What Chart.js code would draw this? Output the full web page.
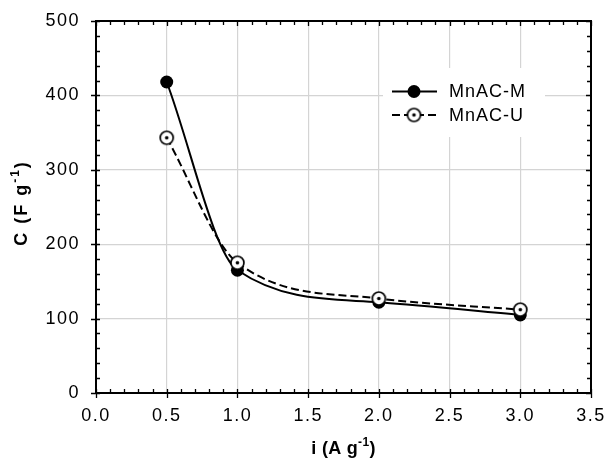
<!DOCTYPE html>
<html>
<head>
<meta charset="utf-8">
<script src="https://cdn.jsdelivr.net/npm/chart.js@4/dist/chart.umd.min.js"></script>
<style>
html,body{margin:0;padding:0;background:#fff;}
#wrap{width:607px;height:461px;position:relative;}
</style>
</head>
<body>
<div id="wrap"><canvas id="c" width="607" height="461"></canvas></div>
<script>
const currents = [0.5, 1.0, 2.0, 3.0];
const mnacM = [418, 165, 122, 105];
const mnacU = [343, 175, 127, 112];
const seriesNames = ['MnAC-M', 'MnAC-U'];
const xTickLabels = ['0.0','0.5','1.0','1.5','2.0','2.5','3.0','3.5'];
const yTickLabels = ['0','100','200','300','400','500'];

const FONT = "'Liberation Sans', Arial, sans-serif";

function makeU(r) {
  const s = Math.ceil(r*2+4);
  const cv = document.createElement('canvas');
  cv.width = s; cv.height = s;
  const g = cv.getContext('2d');
  g.beginPath(); g.arc(s/2, s/2, r, 0, Math.PI*2);
  g.fillStyle = '#fff'; g.fill();
  g.lineWidth = 1.7; g.strokeStyle = '#000'; g.stroke();
  g.beginPath(); g.arc(s/2, s/2, 1.8, 0, Math.PI*2);
  g.fillStyle = '#000'; g.fill();
  return cv;
}
const uImg = makeU(6.5);

const spacingPlugin = {
  id: 'spacing',
  beforeDraw(chart) { chart.ctx.letterSpacing = '1.5px'; },
  beforeLayout(chart) { chart.ctx.letterSpacing = '1.5px'; }
};

const framePlugin = {
  id: 'frame',
  afterDatasetsDraw(chart) {
    const ctx = chart.ctx, a = chart.chartArea;
    const xs = chart.scales.x, ys = chart.scales.y;
    ctx.save();
    ctx.strokeStyle = '#000';
    ctx.lineWidth = 1.3;
    for (let i = 0; i <= 35; i++) {
      const v = i/10;
      const px = Math.round(xs.getPixelForValue(v)) + 0.5;
      const major = (i % 5 === 0);
      ctx.beginPath();
      if (major) {
        ctx.moveTo(px, a.bottom + 5); ctx.lineTo(px, a.bottom - 4);
        ctx.moveTo(px, a.top); ctx.lineTo(px, a.top + 5);
      } else {
        ctx.moveTo(px, a.bottom); ctx.lineTo(px, a.bottom - 4);
        ctx.moveTo(px, a.top); ctx.lineTo(px, a.top + 4);
      }
      ctx.stroke();
    }
    for (let i = 0; i <= 25; i++) {
      const v = i*20;
      const py = Math.round(ys.getPixelForValue(v)) + 0.5;
      const major = (i % 5 === 0);
      ctx.beginPath();
      if (major) {
        ctx.moveTo(a.left - 5, py); ctx.lineTo(a.left + 4, py);
        ctx.moveTo(a.right, py); ctx.lineTo(a.right - 5, py);
      } else {
        ctx.moveTo(a.left, py); ctx.lineTo(a.left + 4, py);
        ctx.moveTo(a.right, py); ctx.lineTo(a.right - 4, py);
      }
      ctx.stroke();
    }
    ctx.lineWidth = 2;
    ctx.strokeRect(a.left, a.top, a.right - a.left, a.bottom - a.top);

    // legend
    const lx = 383, ly = 68;
    ctx.fillStyle = '#fff';
    ctx.fillRect(lx, ly, 162, 69);
    const rows = [91.5, 115];
    ctx.lineWidth = 2;
    ctx.setLineDash([]);
    ctx.beginPath(); ctx.moveTo(392, rows[0]); ctx.lineTo(437, rows[0]); ctx.stroke();
    ctx.beginPath(); ctx.arc(414, rows[0], 6.5, 0, Math.PI*2); ctx.fillStyle='#000'; ctx.fill();
    ctx.setLineDash([8,4]);
    ctx.beginPath(); ctx.moveTo(392, rows[1]); ctx.lineTo(437, rows[1]); ctx.stroke();
    ctx.setLineDash([]);
    ctx.drawImage(uImg, 414 - uImg.width/2, rows[1] - uImg.height/2);
    ctx.fillStyle = '#000';
    ctx.font = "18px " + FONT;
    ctx.letterSpacing = '1px';
    ctx.textBaseline = 'middle';
    ctx.textAlign = 'left';
    ctx.fillText(seriesNames[0], 449, rows[0] + 1);
    ctx.fillText(seriesNames[1], 449, rows[1] + 1);

    function drawSup(parts, x, y, rotate, size, supSize, spacing) {
      ctx.save();
      ctx.translate(x, y);
      if (rotate) ctx.rotate(-Math.PI/2);
      ctx.letterSpacing = spacing + 'px';
      const big = "bold " + size + "px " + FONT, small = "bold " + supSize + "px " + FONT;
      let w = 0;
      parts.forEach(p => { ctx.font = p.sup ? small : big; w += ctx.measureText(p.t).width; });
      let cx = -w/2;
      ctx.textAlign = 'left';
      ctx.textBaseline = 'alphabetic';
      parts.forEach(p => {
        ctx.font = p.sup ? small : big;
        ctx.fillText(p.t, cx, p.sup ? -1 : 6.5);
        cx += ctx.measureText(p.t).width;
      });
      ctx.restore();
    }
    drawSup([{t:'i (A g'},{t:'-1',sup:true},{t:')'}], (a.left+a.right)/2, 447, false, 18, 12, 0.3);
    drawSup([{t:'C (F g'},{t:'-1',sup:true},{t:')'}], 20, 203, true, 18, 12, 2);
    ctx.restore();
  }
};

new Chart(document.getElementById('c'), {
  type: 'line',
  data: {
    datasets: [
      {
        label: seriesNames[0],
        data: currents.map((x,i) => ({x, y: mnacM[i]})),
        borderColor: '#000', backgroundColor: '#000',
        borderWidth: 2, pointRadius: 6.5, pointStyle: 'circle',
        pointBorderWidth: 0, cubicInterpolationMode: 'monotone', order: 1
      },
      {
        label: seriesNames[1],
        data: currents.map((x,i) => ({x, y: mnacU[i]})),
        borderColor: '#000', backgroundColor: '#fff',
        borderWidth: 2, borderDash: [8,4], pointStyle: uImg, pointRadius: 6.5,
        cubicInterpolationMode: 'monotone', order: 0
      }
    ]
  },
  options: {
    responsive: false, animation: false, devicePixelRatio: 1,
    layout: { padding: { left: 0, top: 21, right: 16, bottom: 0 } },
    plugins: { legend: { display: false }, tooltip: { enabled: false } },
    scales: {
      x: {
        type: 'linear', min: 0, max: 3.5,
        afterFit: s => { s.height = 68; s.paddingLeft = 0; s.paddingRight = 0; },
        afterBuildTicks: s => { s.ticks = xTickLabels.map(t => ({value: parseFloat(t)})); },
        ticks: { callback: (v) => xTickLabels.find(t => parseFloat(t) === v) ?? '', color: '#000', font: { size: 18, family: FONT }, padding: 12, maxRotation: 0 },
        grid: { color: '#d4d4d4', lineWidth: 1.2, drawTicks: false },
        border: { display: false }
      },
      y: {
        min: 0, max: 500,
        afterFit: s => { s.width = 96; s.paddingTop = 0; s.paddingBottom = 0; },
        afterBuildTicks: s => { s.ticks = yTickLabels.map(t => ({value: parseFloat(t)})); },
        ticks: { callback: (v) => yTickLabels.find(t => parseFloat(t) === v) ?? '', color: '#000', font: { size: 18, family: FONT }, padding: 16 },
        grid: { color: '#d4d4d4', lineWidth: 1.2, drawTicks: false },
        border: { display: false }
      }
    }
  },
  plugins: [spacingPlugin, framePlugin]
});
</script>
</body>
</html>
